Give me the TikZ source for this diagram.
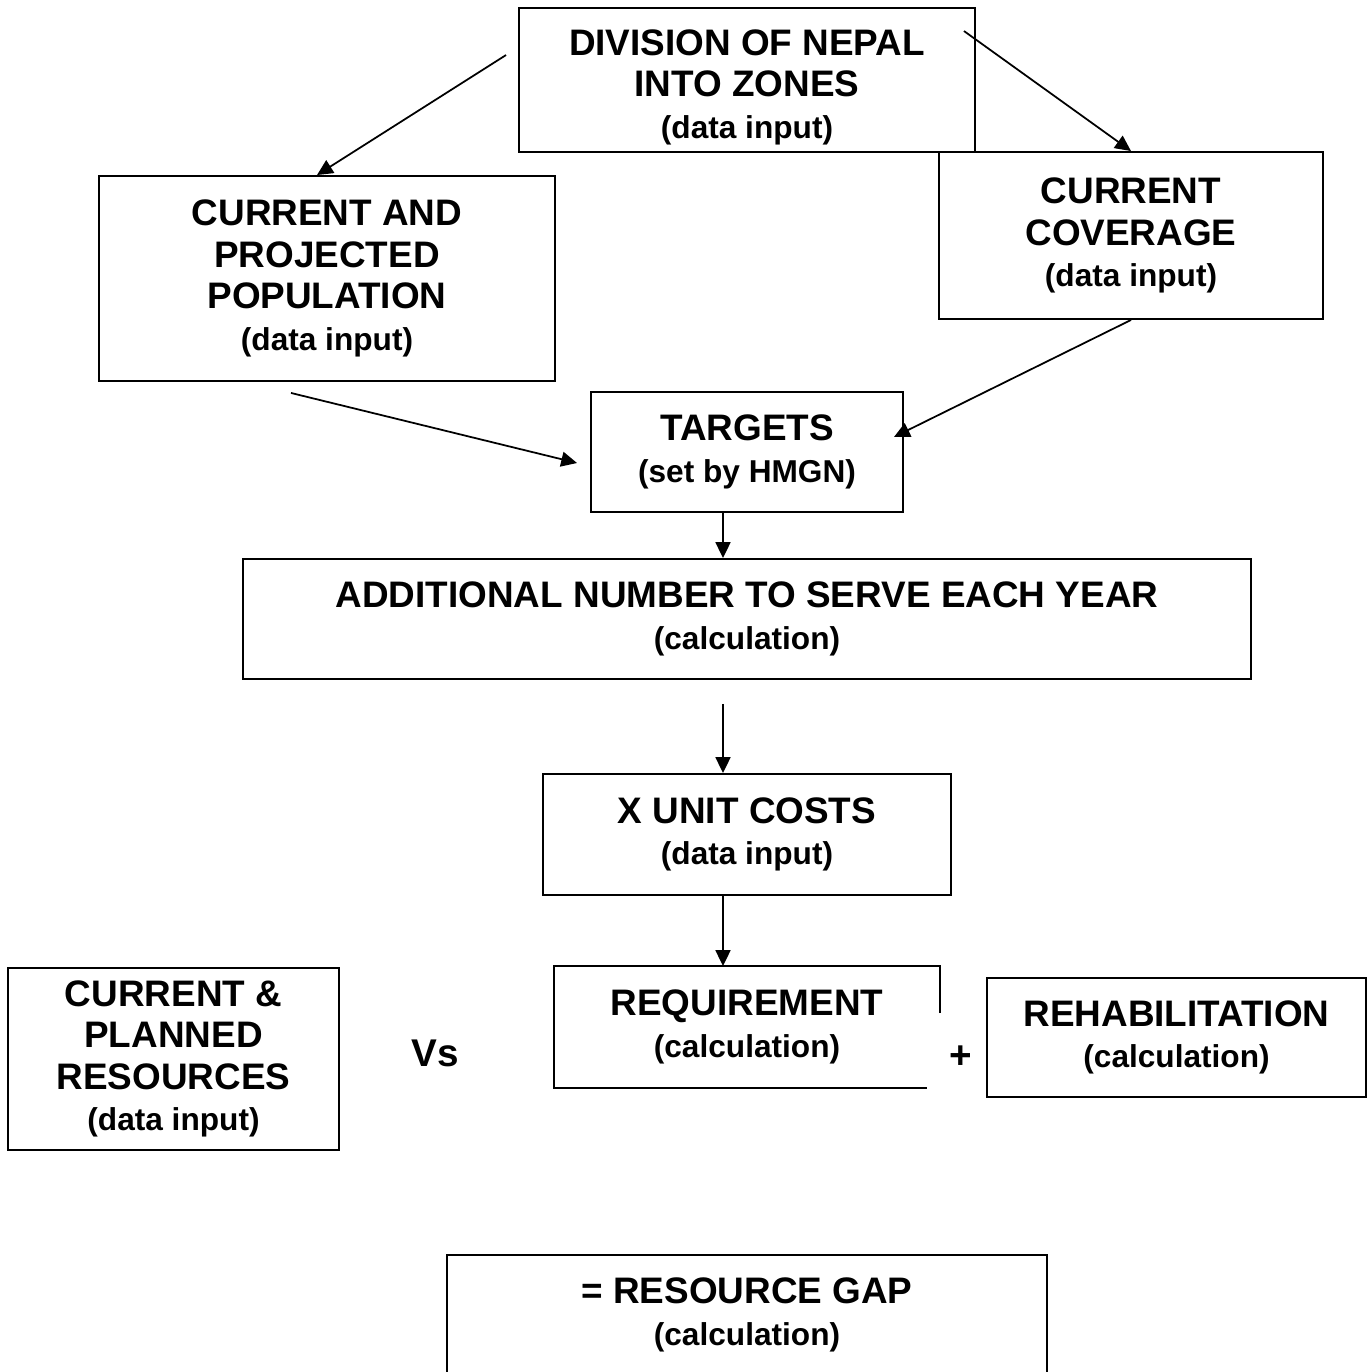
\documentclass[tikz,border=0pt]{standalone}
\usepackage{fontspec}
\setmainfont{Liberation Sans}
\usetikzlibrary{arrows.meta, calc}
\def\pxu{0.02cm}
\newcommand{\sub}[1]{{\fontsize{18}{23.6}\selectfont #1}}
\tikzset{
  every picture/.style={x=0.02cm, y=-0.02cm, font=\fontsize{21}{23.6}\selectfont\bfseries},
  box/.style 2 args={draw, line width=1.1pt, align=center, inner sep=0pt,
    minimum width=#1*\pxu, minimum height=#2*\pxu},
  open/.style 2 args={box={#1}{#2}, draw=none},
  arrow/.style={-{Triangle[length=9pt, width=8.5pt]}, line width=1pt},
  sign/.style={font=\fontsize{22}{24}\selectfont\bfseries},
}

\begin{document}
\begin{tikzpicture}
  \useasboundingbox (0,0) rectangle (1372,1372);
  \node[box={456}{144}] (div) at (747,80) {\rule{0pt}{23pt}DIVISION OF NEPAL\\INTO ZONES\\\sub{(data input)}};
  \node[box={456}{205}] (pop) at (327,278.5) {CURRENT AND\\PROJECTED\\POPULATION\\\sub{(data input)}};
  \node[box={384}{167}] (cov) at (1131,235.5) {CURRENT\\COVERAGE\\\sub{(data input)}};
  \node[box={312}{120}] (tgt) at (747,452) {TARGETS\\\sub{(set by HMGN)}};
  \node[box={1008}{120}] (addl) at (747,619) {ADDITIONAL NUMBER TO SERVE EACH YEAR\\\sub{(calculation)}};
  \node[box={408}{121}] (unit) at (747,834.5) {X UNIT COSTS\\\sub{(data input)}};
  \node[open={384}{120}] (req) at (747,1027) {REQUIREMENT\\\sub{(calculation)}};
  \node[box={379}{119}] (rehab) at (1176.5,1037.5) {REHABILITATION\\\sub{(calculation)}};
  \node[box={331}{182}] (res) at (173.5,1059) {CURRENT \&\\PLANNED\\RESOURCES\\\sub{(data input)}};
  \node[box={600}{120}] (gap) at (747,1315) {= RESOURCE GAP\\\sub{(calculation)}};
  \node[sign] (vs) at (435,1053) {Vs};
  \node[sign] (plus) at (961,1057) {+};
  % broken outline of the requirement box
  \draw[line width=1.1pt] ($(req.north east)+(0,47)$) -- (req.north east) -- (req.north west)
    -- (req.south west) -- ($(req.south west)+(373,0)$);
  \coordinate (col) at (723,0);
  \coordinate (d1) at ($(div.north west)+(-12,48)$);
  \coordinate (d2) at ($(div.north east)+(-12,24)$);
  \coordinate (p1) at ($(pop.south)+(-36,11)$);
  \coordinate (t1) at ($(tgt.west)+(-13,11)$);
  \coordinate (t2) at ($(tgt.east)+(-10,-15)$);
  \draw[arrow] (d1) -- ($(pop.north)+(-10,0)$);
  \draw[arrow] (d2) -- (cov.north);
  \draw[arrow] (p1) -- (t1);
  \draw[arrow] (cov.south) -- (t2);
  \draw[arrow] (tgt.south -| col) -- (addl.north -| col);
  \draw[arrow] ($(addl.south -| col)+(0,24)$) -- (unit.north -| col);
  \draw[arrow] (unit.south -| col) -- (req.north -| col);
\end{tikzpicture}
\end{document}
